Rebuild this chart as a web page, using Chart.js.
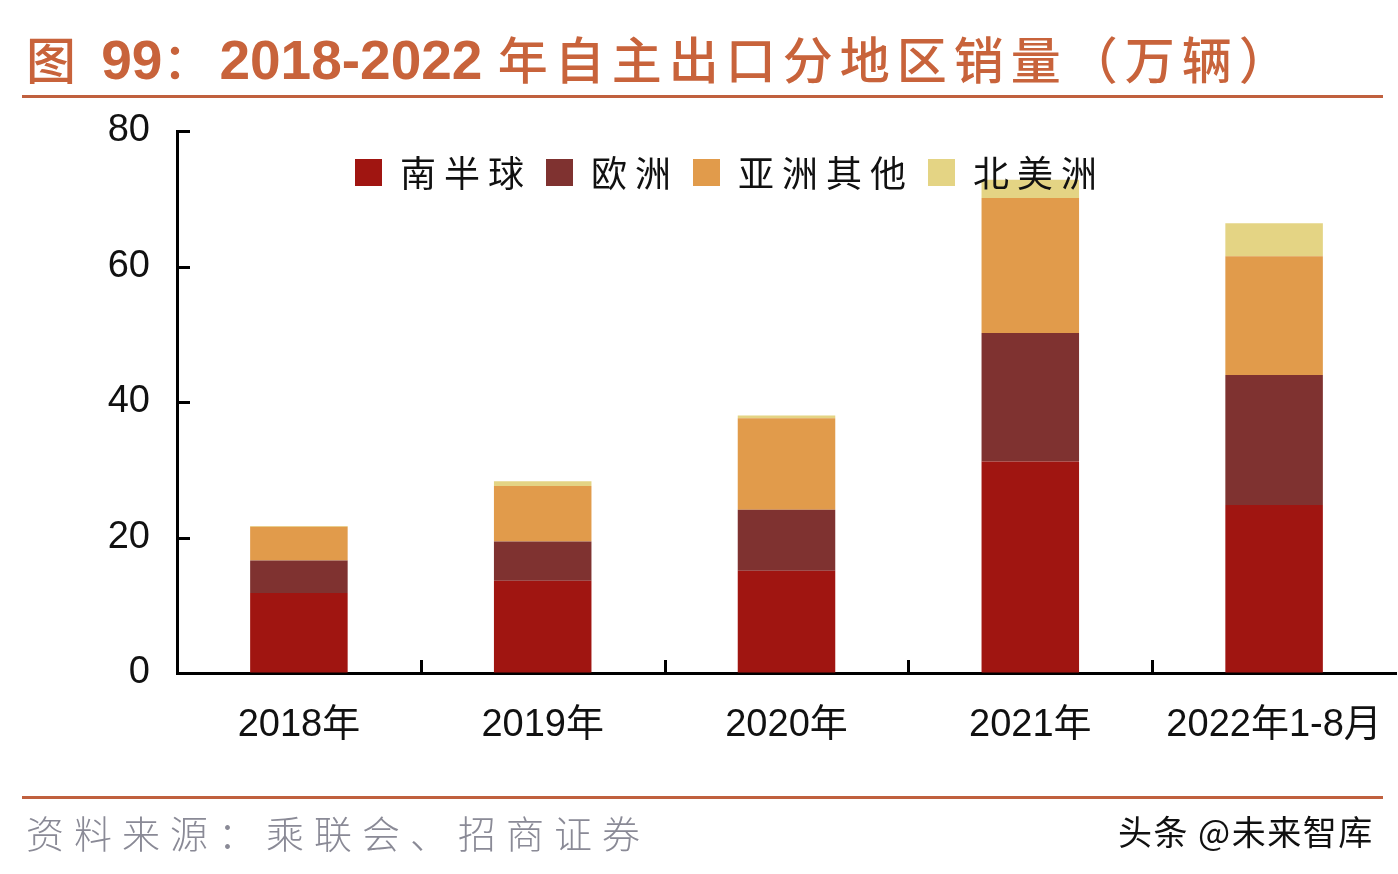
<!DOCTYPE html>
<html><head><meta charset="utf-8">
<script src="https://cdn.jsdelivr.net/npm/chart.js@4/dist/chart.umd.min.js"></script>
<style>
body{margin:0;background:#fff;width:1398px;height:874px;overflow:hidden;position:relative;font-family:"Liberation Sans","Noto Sans CJK SC",sans-serif}
#wrap{position:absolute;left:0;top:0;width:1398px;height:874px}
.title{position:absolute;left:26px;top:20px;font-size:50px;color:#C8633B;white-space:nowrap;line-height:74px}
.title b{font-family:"Liberation Sans";font-weight:bold;font-size:55px}
.title .cj{font-family:"Noto Sans CJK SC";letter-spacing:7px;font-weight:500}
.line{position:absolute;left:22px;width:1361px;height:3px;background:#C0603E}
.src{position:absolute;left:26px;top:804px;font-size:38px;color:#8a8a96;letter-spacing:10px;font-family:"Noto Sans CJK SC";font-weight:300;white-space:nowrap}
.wm{position:absolute;left:1118px;top:806px;font-size:34px;color:#111;font-family:"Noto Sans CJK SC";white-space:nowrap;letter-spacing:1.5px}
</style></head>
<body>
<div id="wrap"><canvas id="c" width="1398" height="874"></canvas></div>
<div class="title"><span class="cj">图 </span><b>99</b><span class="cj">：</span><b>2018-2022 </b><span class="cj">年自主出口分地区销量（万辆）</span></div>
<div class="line" style="top:95px"></div>
<div class="line" style="top:796px"></div>
<div class="src">资料来源：乘联会、招商证券</div>
<div class="wm">头条 @未来智库</div>
<script>
const categories = ['2018年','2019年','2020年','2021年','2022年1-8月'];
const seriesNames = ['南半球','欧洲','亚洲其他','北美洲'];
const southHemisphere = [11.8, 13.6, 15.1, 31.2, 24.8];
const europe = [4.8, 5.8, 9.0, 19.0, 19.2];
const asiaOther = [5.0, 8.2, 13.5, 19.9, 17.5];
const northAmerica = [0.1, 0.7, 0.4, 2.7, 4.9];
const yTicks = [0, 20, 40, 60, 80];
const colors = ['#A01511', '#7F3230', '#E19B4B', '#E4D484'];

const seriesValues = [southHemisphere, europe, asiaOther, northAmerica];

const innerDecor = {
  id: 'innerDecor',
  afterDraw(chart) {
    const {ctx, chartArea: a, scales: {x, y}} = chart;
    ctx.save();
    ctx.strokeStyle = '#000';
    ctx.lineWidth = 3;
    yTicks.forEach(v => {
      const py = Math.round(y.getPixelForValue(v)) + 0.5;
      ctx.beginPath(); ctx.moveTo(a.left, py); ctx.lineTo(a.left + 13, py); ctx.stroke();
    });
    for (let i = 0; i < categories.length - 1; i++) {
      const px = Math.round((x.getPixelForValue(i) + x.getPixelForValue(i + 1)) / 2) + 0.5;
      ctx.beginPath(); ctx.moveTo(px, a.bottom); ctx.lineTo(px, a.bottom - 13); ctx.stroke();
    }
    // legend inside plot area
    let lx = 355;
    const ly = 172;
    ctx.font = '36px "Noto Sans CJK SC"';
    ctx.textBaseline = 'middle';
    try { ctx.letterSpacing = '8px'; } catch (e) {}
    chart.data.datasets.forEach(ds => {
      ctx.fillStyle = ds.backgroundColor;
      ctx.fillRect(lx, ly - 13, 27, 27);
      lx += 27 + 18;
      ctx.fillStyle = '#111';
      ctx.fillText(ds.label, lx, ly + 1);
      lx += ctx.measureText(ds.label).width + 14;
    });
    ctx.restore();
  }
};

new Chart(document.getElementById('c'), {
  type: 'bar',
  data: {
    labels: categories,
    datasets: seriesNames.map((n, i) => ({
      label: n,
      data: seriesValues[i],
      backgroundColor: colors[i],
      borderWidth: 0,
      barPercentage: 0.4,
      categoryPercentage: 1.0
    }))
  },
  options: {
    responsive: false,
    animation: false,
    events: [],
    layout: {padding: {top: 131, right: 2, left: 0, bottom: 0}},
    plugins: {legend: {display: false}, tooltip: {enabled: false}, title: {display: false}},
    scales: {
      x: {
        stacked: true,
        grid: {display: true, drawOnChartArea: false, drawTicks: false},
        border: {display: true, color: '#000', width: 3},
        ticks: {color: '#111', font: {family: '"Liberation Sans", "Noto Sans CJK SC"', size: 38}, padding: 30, maxRotation: 0, autoSkip: false},
        afterFit(s) { s.height = 201; s.paddingLeft = 0; s.paddingRight = 0; }
      },
      y: {
        stacked: true,
        min: 0, max: 80,
        afterBuildTicks(s) { s.ticks = yTicks.map(v => ({value: v})); },
        grid: {display: true, drawOnChartArea: false, drawTicks: false},
        border: {display: true, color: '#000', width: 3},
        ticks: {color: '#111', font: {family: '"Liberation Sans"', size: 38}, padding: 27},
        afterFit(s) { s.width = 177; s.paddingTop = 0; s.paddingBottom = 0; }
      }
    }
  },
  plugins: [innerDecor]
});
</script>
</body></html>
